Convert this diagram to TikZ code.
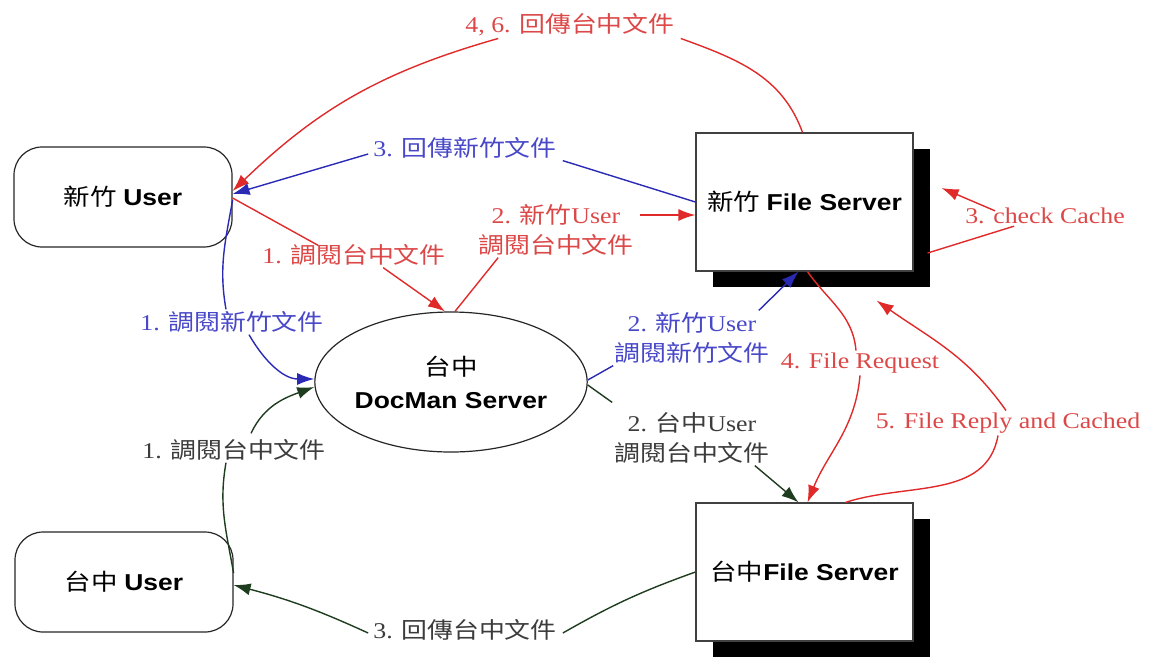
\documentclass[tikz,border=0pt]{standalone}
\usepackage{fontspec}
\setmainfont{Liberation Serif}[FakeStretch=1.15]
\setsansfont{Liberation Sans}[FakeStretch=1.15]
\newfontfamily\cjkfont{Noto Sans CJK TC}[FakeStretch=1.15]
\newcommand{\cjk}[1]{{\cjkfont #1}}
\usetikzlibrary{shapes.geometric,shadows,arrows.meta}
\definecolor{link-red}{HTML}{E02A2A}
\definecolor{text-red}{HTML}{DC4848}
\definecolor{link-blue}{HTML}{2A2AB4}
\definecolor{text-blue}{HTML}{4848C8}
\definecolor{link-green}{HTML}{1E3C1E}
\definecolor{text-dark}{HTML}{3C3C3C}
\tikzset{
    node-font/.style = {font=\fontsize{23}{33}\selectfont},
    user-box/.style = {draw=black!85, fill=white, line width=1.2pt, rectangle, rounded corners=28pt, minimum width=218pt, minimum height=100pt, node-font},
    server-box/.style = {draw=black!75, fill=white, line width=1.2pt, rectangle, minimum width=217pt, minimum height=138pt, node-font,
        drop shadow={shadow xshift=17pt, shadow yshift=-16pt, fill=black, opacity=1}},
    docman-ellipse/.style = {draw=black!85, fill=white, line width=1.2pt, ellipse, minimum width=208pt, minimum height=140pt, inner sep=0pt, align=center, node-font},
    label-text/.style = {inner sep=2pt, align=center, font=\fontsize{22.5}{30}\selectfont},
    red-label/.style = {label-text, text=text-red},
    blue-label/.style = {label-text, text=text-blue},
    dark-label/.style = {label-text, text=text-dark},
    tip/.style = {-{Latex[length=17pt,width=12pt]}},
    red-link/.style = {draw=link-red, line width=1.4pt},
    blue-link/.style = {draw=link-blue, line width=1.4pt},
    green-link/.style = {draw=link-green, line width=1.4pt},
}
\begin{document}
\begin{tikzpicture}[x=1pt, y=-1pt]
\useasboundingbox (0,0) rectangle (1150,657);
% boxes
\node [user-box] (hcuser) at (123,197) {\cjk{新竹} \textbf{\sffamily User}};
\node [user-box] (tcuser) at (124,582) {\cjk{台中} \textbf{\sffamily User}};
\node [docman-ellipse] (docman) at (451,382) {\cjk{台中}\\\textbf{\sffamily DocMan Server}};
\node [server-box] (hcfs) at (804.5,202) {\cjk{新竹} \textbf{\sffamily File Server}};
\node [server-box] (tcfs) at (804.5,572) {\cjk{台中}\textbf{\sffamily File Server}};
% labels
\node [red-label] (l46) at (570,25) {4, 6. \cjk{回傳台中文件}};
\node [blue-label] (l3hc) at (465,148) {3. \cjk{回傳新竹文件}};
\node [red-label] (l2hcr) at (556,230) {2. \cjk{新竹}User\\\cjk{調閱台中文件}};
\node [red-label] (l1r) at (354,255) {1. \cjk{調閱台中文件}};
\node [blue-label] (l1b) at (232,322) {1. \cjk{調閱新竹文件}};
\node [dark-label] (l1g) at (234,450) {1. \cjk{調閱台中文件}};
\node [dark-label] (l3tc) at (465,630) {3. \cjk{回傳台中文件}};
\node [blue-label] (l2hcb) at (692,338) {2. \cjk{新竹}User\\\cjk{調閱新竹文件}};
\node [dark-label] (l2tc) at (692,438) {2. \cjk{台中}User\\\cjk{調閱台中文件}};
\node [red-label] (l4) at (860,363) {4. File Request};
\node [red-label] (l5) at (1008,423) {5. File Reply and Cached};
\node [red-label] (lcc) at (1045,216) {3. check Cache};
% 新竹 user
\draw [red-link] ([xshift=-2pt]hcfs.north) to[out=110,in=-20] ([xshift=4pt]l46.south east);
\draw [red-link, tip] ([xshift=35pt]l46.south west) to[bend right=14] ([yshift=6pt]hcuser.east);
\draw [blue-link] (hcfs.west) -- ([xshift=4pt]l3hc.south east);
\draw [blue-link, tip] ([xshift=-3pt,yshift=-6pt]l3hc.west) -- ([yshift=3pt]hcuser.east);
\draw [red-link] ([yshift=-1pt]hcuser.east) -- ([xshift=58pt,yshift=-3pt]l1r.north west);
\draw [red-link, tip] ([xshift=123pt]l1r.south west) -- ([xshift=-6pt]docman.north);
\draw [blue-link] ([yshift=-3pt]hcuser.east) to[out=-100,in=100] ([xshift=-6pt]l1b.north);
\draw [blue-link, tip] ([xshift=17pt]l1b.south) to[out=-60,in=180] ([yshift=3pt]docman.west);
% 台中 user
\draw [green-link] ([yshift=9pt]tcuser.east) to[out=100,in=-100] ([xshift=-8pt]l1g.south);
\draw [green-link, tip] ([xshift=17pt,yshift=4pt]l1g.north) to[out=65,in=200] ([yshift=-5pt]docman.west);
\draw [green-link] (tcfs.west) to[bend right=5] ([xshift=4pt,yshift=-3pt]l3tc.east);
\draw [green-link, tip] ([xshift=-3pt,yshift=-3pt]l3tc.west) to[bend right=5] ([yshift=-3pt]tcuser.east);
% docman to servers
\draw [red-link] ([xshift=4pt]docman.north) -- ([xshift=22pt]l2hcr.south west);
\draw [red-link, tip] ([xshift=4pt,yshift=15pt]l2hcr.east) -- ([yshift=-13pt]hcfs.west);
\draw [blue-link] ([yshift=2pt]docman.east) -- ([xshift=1pt]l2hcb.south west);
\draw [blue-link, tip] ([xshift=-13pt]l2hcb.north east) -- ([xshift=-6pt]hcfs.south);
\draw [green-link] ([yshift=-3pt]docman.east) -- ([yshift=8pt]l2tc.north west);
\draw [green-link, tip] ([xshift=-17pt]l2tc.south east) -- ([xshift=-6pt]tcfs.north);
% between servers
\draw [red-link] ([xshift=3pt]hcfs.south) to[out=-55,in=95] ([xshift=-4pt]l4.north);
\draw [red-link, tip] (l4.south) to[out=-95,in=68] ([xshift=3pt]tcfs.north);
\draw [red-link] ([xshift=41pt]tcfs.north) to[out=18,in=-100] ([xshift=-10pt]l5.south);
\draw [red-link, tip] ([xshift=-2pt]l5.north) to[out=125,in=-35] ([xshift=-37pt,yshift=-29pt]hcfs.south east);
\draw [red-link] ([xshift=14pt,yshift=-51pt]hcfs.east) -- ([xshift=51pt]lcc.south west);
\draw [red-link, tip] ([xshift=32pt,yshift=-5pt]lcc.north west) -- ([xshift=28pt,yshift=14pt]hcfs.east);
\end{tikzpicture}
\end{document}
